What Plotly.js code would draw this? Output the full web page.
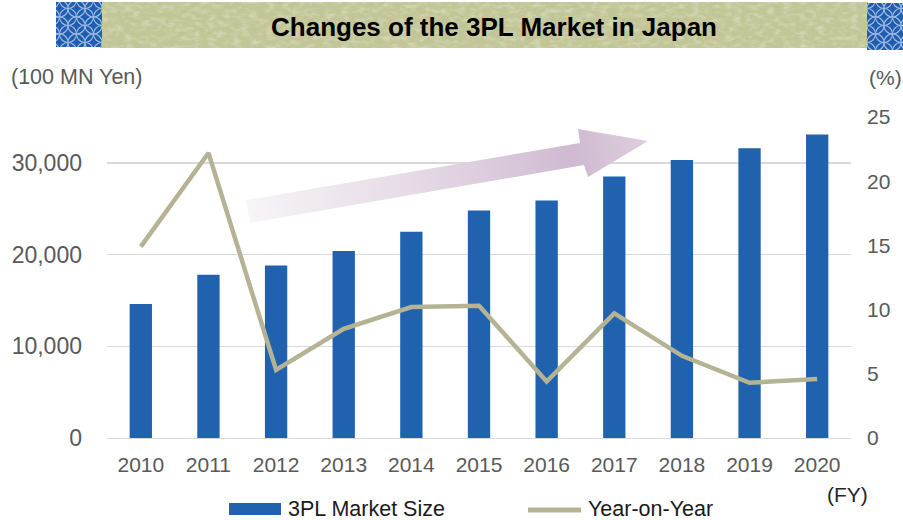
<!DOCTYPE html>
<html>
<head>
<meta charset="utf-8">
<script src="https://cdn.plot.ly/plotly-3.0.1.min.js"></script>
<style>
  html, body { margin: 0; padding: 0; background: #ffffff; }
  #chart { width: 903px; height: 520px; }
</style>
</head>
<body>
<div id="chart"></div>
<script>
// Fiscal years on the category axis
const years = ['2010', '2011', '2012', '2013', '2014', '2015', '2016', '2017', '2018', '2019', '2020'];
// 3PL market size, 100 million yen
const marketSize = [14600, 17800, 18800, 20400, 22500, 24800, 25900, 28500, 30300, 31600, 33100];
// Year-on-year change, percent
const yoyGrowth = [14.9, 22.2, 5.3, 8.5, 10.2, 10.3, 4.4, 9.7, 6.4, 4.3, 4.6];
// Left axis ticks
const sizeTicks = [0, 10000, 20000, 30000];

const W = 903, H = 520;
const M = { l: 107, r: 52, t: 117, b: 82 };
const PW = W - M.l - M.r, PH = H - M.t - M.b;
// pixel -> paper helpers for decorations
const px = x => (x - M.l) / PW;
const py = y => (H - M.b - y) / PH;

const FONT = 'Liberation Sans, Arial, sans-serif';
const GREY = '#595959';
const BLUE = '#2162AE';
const OLIVE = '#B5B393';

// Header band: fibrous paper strip with shippo-pattern blocks at both ends
const headerSvg = `
<svg xmlns="http://www.w3.org/2000/svg" width="${W}" height="${H}" viewBox="0 0 ${W} ${H}">
  <defs>
    <filter id="grain" x="0" y="0" width="1" height="1">
      <feTurbulence type="fractalNoise" baseFrequency="0.12 0.22" numOctaves="3" seed="11"/>
      <feColorMatrix type="matrix" values="0 0 0 0 1  0 0 0 0 1  0 0 0 0 0.95  0 0 0 1.3 -0.55"/>
    </filter>
    <pattern id="shippo" x="0" y="0" width="17" height="17" patternUnits="userSpaceOnUse">
      <g fill="none" stroke="#AFC6EA" stroke-width="1.1" opacity="0.9">
        <circle cx="0" cy="0" r="8.5"/><circle cx="17" cy="0" r="8.5"/>
        <circle cx="0" cy="17" r="8.5"/><circle cx="17" cy="17" r="8.5"/>
        <circle cx="8.5" cy="8.5" r="8.5"/>
      </g>
    </pattern>
  </defs>
  <rect x="100" y="2" width="768" height="46" fill="#C2C596"/>
  <rect x="100" y="2" width="768" height="46" filter="url(#grain)" opacity="0.55"/>
  <rect x="56" y="2" width="46" height="45" fill="#1F5DAE"/>
  <rect x="56" y="2" width="46" height="45" fill="url(#shippo)"/>
  <rect x="867" y="3" width="36" height="47" fill="#1F5DAE"/>
  <rect x="867" y="3" width="36" height="47" fill="url(#shippo)"/>
</svg>`;

// Upward trend arrow with a pale-to-lilac gradient
const arrowSvg = `
<svg xmlns="http://www.w3.org/2000/svg" width="${W}" height="${H}" viewBox="0 0 ${W} ${H}">
  <defs>
    <linearGradient id="g" gradientUnits="userSpaceOnUse" x1="246" y1="212" x2="647" y2="150">
      <stop offset="0" stop-color="#F8F5F8"/>
      <stop offset="0.45" stop-color="#E4D8E5"/>
      <stop offset="0.82" stop-color="#CFBAD1"/>
      <stop offset="1" stop-color="#DDCEDE"/>
    </linearGradient>
  </defs>
  <path d="M246,200 L580,143 L578,129 L648,141 L588,177 L584,165 L250,223 Z" fill="url(#g)"/>
</svg>`;

const toUri = s => 'data:image/svg+xml;charset=utf-8,' + encodeURIComponent(s);
const fullCanvas = {
  xref: 'paper', yref: 'paper', x: px(0), y: py(0), sizex: W / PW, sizey: H / PH,
  xanchor: 'left', yanchor: 'top', sizing: 'stretch'
};

const traces = [
  {
    type: 'bar', name: '3PL Market Size', x: years, y: marketSize,
    marker: { color: BLUE, line: { width: 0 } }, hoverinfo: 'x+y'
  },
  {
    type: 'scatter', mode: 'lines', name: 'Year-on-Year', x: years, y: yoyGrowth,
    yaxis: 'y2', line: { color: OLIVE, width: 4.5 }, hoverinfo: 'x+y'
  }
];

const layout = {
  width: W, height: H,
  margin: M,
  paper_bgcolor: '#ffffff', plot_bgcolor: 'rgba(0,0,0,0)',
  showlegend: false,
  bargap: 0.67,
  font: { family: FONT, color: GREY, size: 21 },
  title: {
    text: 'Changes of the 3PL Market in Japan',
    font: { family: FONT, size: 26, color: '#000000', weight: 'bold' },
    xref: 'container', yref: 'container',
    x: 494 / W, xanchor: 'center', y: 1 - 27 / H, yanchor: 'middle'
  },
  xaxis: {
    type: 'category', showgrid: false, zeroline: false,
    showline: true, linecolor: '#D9D9D9', linewidth: 1.3,
    ticks: '', tickfont: { size: 21, color: GREY }, ticklabelstandoff: 7
  },
  yaxis: {
    range: [0, 35000], tickvals: sizeTicks, tickformat: ',d',
    showgrid: true, gridcolor: '#D9D9D9', gridwidth: 1.3, zeroline: false,
    ticks: '', tickfont: { size: 23, color: GREY }, ticklabelstandoff: 24
  },
  yaxis2: {
    overlaying: 'y', side: 'right', range: [0, 25], dtick: 5,
    showgrid: false, zeroline: false, showline: false,
    ticks: '', tickfont: { size: 21, color: GREY }, ticklabelstandoff: 15
  },
  images: [
    Object.assign({ source: toUri(headerSvg), layer: 'below' }, fullCanvas),
    Object.assign({ source: toUri(arrowSvg), layer: 'above' }, fullCanvas)
  ],
  shapes: [
    // legend keys
    { type: 'rect', xref: 'paper', yref: 'paper', x0: px(229), x1: px(281), y0: py(503), y1: py(515),
      fillcolor: BLUE, line: { width: 0 } },
    { type: 'line', xref: 'paper', yref: 'paper', x0: px(528), x1: px(581), y0: py(510), y1: py(510),
      line: { color: OLIVE, width: 5 } }
  ],
  annotations: [
    { text: '(100 MN Yen)', xref: 'paper', yref: 'paper', x: px(9), y: py(77),
      xanchor: 'left', yanchor: 'middle', showarrow: false, font: { size: 21.5, color: GREY } },
    { text: '(%)', xref: 'paper', yref: 'paper', x: px(867), y: py(77),
      xanchor: 'left', yanchor: 'middle', showarrow: false, font: { size: 21, color: GREY } },
    { text: '(FY)', xref: 'paper', yref: 'paper', x: px(825), y: py(495),
      xanchor: 'left', yanchor: 'middle', showarrow: false, font: { size: 21, color: '#262626' } },
    { text: '3PL Market Size', xref: 'paper', yref: 'paper', x: px(286), y: py(509),
      xanchor: 'left', yanchor: 'middle', showarrow: false, font: { size: 21.5, color: '#1A1A1A' } },
    { text: 'Year-on-Year', xref: 'paper', yref: 'paper', x: px(586), y: py(509),
      xanchor: 'left', yanchor: 'middle', showarrow: false, font: { size: 21.5, color: '#1A1A1A' } }
  ]
};

Plotly.newPlot('chart', traces, layout, { displayModeBar: false, staticPlot: true });
</script>
</body>
</html>
